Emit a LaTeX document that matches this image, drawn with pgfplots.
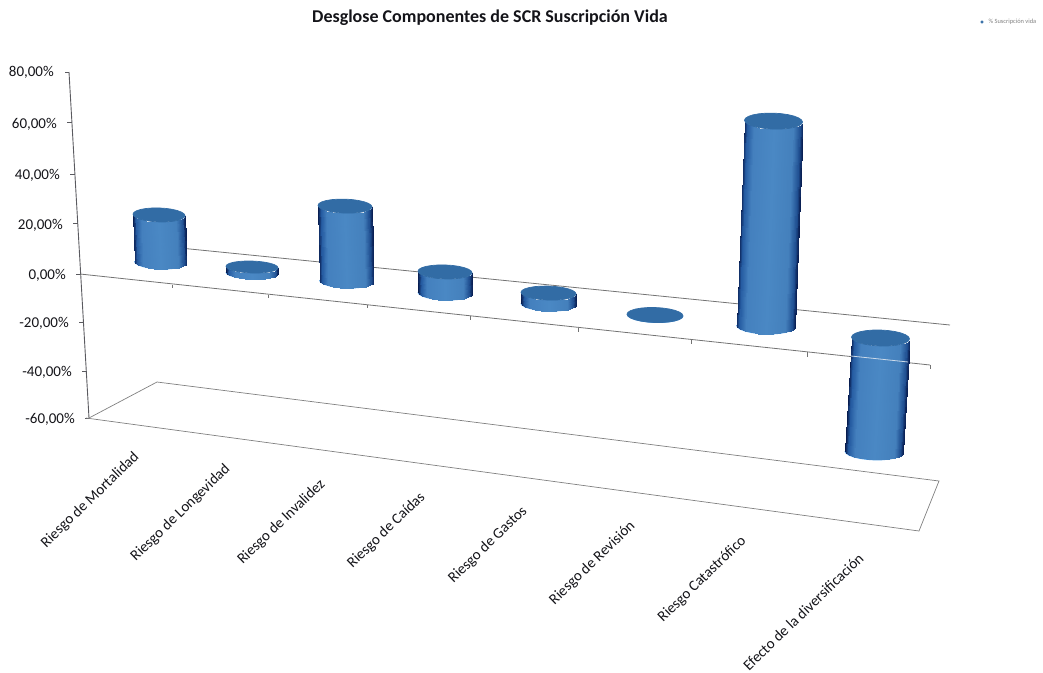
\documentclass[border=0pt]{standalone}
\usepackage{pgfplots}
\usepackage{pgfplotstable}
\usepackage{fontspec}
\setmainfont{Carlito}
\pgfplotsset{compat=1.18}

\definecolor{capblue}{RGB}{50,108,165}
\definecolor{rimblue}{RGB}{80,155,225}
\definecolor{axisline}{RGB}{90,90,95}
\definecolor{txt}{RGB}{20,20,25}

% one row per category: x of base and top, y of the zero plane (px), value in %, radii (px)
\pgfplotstableread{
xb     xt     yz    val    rx    ry
160.5  159    262   18.1   26    7
252    252    273    2.3   26    6
346.5  345    281   28.8   27    7
445    445    293    8.1   27    7
548.5  548.5  304    4.2   27.5  7
655    655    315    0.0   28    7.5
765.5  773.5  326   78.8   29    8
874    880.5  338  -43.8   29    8
}\cyls

% front half of a unit cylinder, t=0 bottom, t=1 top
\pgfplotstableread{
u v t
-1 0 0
-.966 .259 0
-.866 .5 0
-.707 .707 0
-.5 .866 0
-.259 .966 0
0 1 0
.259 .966 0
.5 .866 0
.707 .707 0
.866 .5 0
.966 .259 0
1 0 0
-1 0 1
-.966 .259 1
-.866 .5 1
-.707 .707 1
-.5 .866 1
-.259 .966 1
0 1 1
.259 .966 1
.5 .866 1
.707 .707 1
.866 .5 1
.966 .259 1
1 0 1
}\body

\pgfplotstableread{
u v
1 0
.966 .259
.866 .5
.707 .707
.5 .866
.259 .966
0 1
-.259 .966
-.5 .866
-.707 .707
-.866 .5
-.966 .259
-1 0
-.966 -.259
-.866 -.5
-.707 -.707
-.5 -.866
-.259 -.966
0 -1
.259 -.966
.5 -.866
.707 -.707
.866 -.5
.966 -.259
1 0
}\capring

\newcommand{\vlab}[3]{\node[anchor=east, inner sep=0pt, text=txt, font=\fontsize{15}{18}\selectfont] at (axis cs:#1,#2) {#3};}
\newcommand{\clab}[3]{\node[anchor=east, inner sep=0pt, rotate=44, text=txt, font=\fontsize{15}{18}\selectfont] at (axis cs:#1,#2) {#3};}

\begin{document}
\begin{tikzpicture}
\useasboundingbox (0,0) rectangle (1043pt,672pt);
\begin{axis}[
    x=1pt, y=1pt,
    xmin=0, xmax=1043,
    ymin=0, ymax=672,
    y dir=reverse,
    hide axis,
    clip=false,
    colormap={cylb}{
        rgb255(0)=(8,28,78);
        rgb255(5)=(36,90,160);
        rgb255(16)=(68,128,190);
        rgb255(50)=(74,136,196);
        rgb255(84)=(68,128,188);
        rgb255(95)=(32,80,146);
        rgb255(100)=(10,32,84)
    },
    every axis plot/.append style={no markers}
]
% value axis
\addplot[axisline, line width=0.9pt] coordinates {(69,72) (89,418)};
\addplot[axisline, line width=0.7pt] coordinates {(65,72) (69,72)};
\addplot[axisline, line width=0.7pt] coordinates {(67,122) (72,122)};
\addplot[axisline, line width=0.7pt] coordinates {(70,174) (75,174)};
\addplot[axisline, line width=0.7pt] coordinates {(73,223) (78,223)};
\addplot[axisline, line width=0.7pt] coordinates {(76,274) (81,274)};
\addplot[axisline, line width=0.7pt] coordinates {(79,322) (84,322)};
\addplot[axisline, line width=0.7pt] coordinates {(82,371) (87,371)};
\addplot[axisline, line width=0.7pt] coordinates {(85,418) (90,418)};
% floor
\addplot[gray, line width=0.7pt] coordinates {(89,418) (157,382) (939,481) (919,531) (86,418)};
% zero plane, back and front
\addplot[gray!90!black, line width=0.8pt] coordinates {(170,247) (950,325)};
\addplot[gray!90!black, line width=0.8pt] coordinates {(80,274) (930,365)};
% category ticks on the zero plane
\addplot[gray!90!black, line width=0.7pt] coordinates {(172,285) (172,288)};
\addplot[gray!90!black, line width=0.7pt] coordinates {(268,295) (268,298)};
\addplot[gray!90!black, line width=0.7pt] coordinates {(367,305) (367,308)};
\addplot[gray!90!black, line width=0.7pt] coordinates {(470,316) (470,320)};
\addplot[gray!90!black, line width=0.7pt] coordinates {(578,328) (578,332)};
\addplot[gray!90!black, line width=0.7pt] coordinates {(691,340) (691,344)};
\addplot[gray!90!black, line width=0.7pt] coordinates {(807,352) (807,357)};
\addplot[gray!90!black, line width=0.7pt] coordinates {(930,365) (930,369)};
% cylinders
\pgfplotsinvokeforeach{0,...,7}{
    \pgfplotstablegetelem{#1}{xb}\of\cyls \let\xb\pgfplotsretval
    \pgfplotstablegetelem{#1}{xt}\of\cyls \let\xt\pgfplotsretval
    \pgfplotstablegetelem{#1}{yz}\of\cyls \let\yz\pgfplotsretval
    \pgfplotstablegetelem{#1}{val}\of\cyls \let\val\pgfplotsretval
    \pgfplotstablegetelem{#1}{rx}\of\cyls \let\rx\pgfplotsretval
    \pgfplotstablegetelem{#1}{ry}\of\cyls \let\ry\pgfplotsretval
    \pgfmathsetmacro\ylow{\yz-min(\val,0)*2.6}
    \pgfmathsetmacro\yhigh{\yz-max(\val,0)*2.6}
    \addplot[rimblue, line width=0.9pt, restrict expr to domain={\thisrow{t}}{0:0}]
        table[x expr=\xb+\rx*\thisrow{u},
              y expr=\ylow+\ry*\thisrow{v}+0.03*\rx*\thisrow{u}] {\body};
    \addplot[surf, shader=interp, mesh/cols=13, point meta=\thisrow{u},
             point meta min=-1, point meta max=1]
        table[x expr=\xb*(1-\thisrow{t})+\xt*\thisrow{t}+\rx*\thisrow{u},
              y expr=\ylow*(1-\thisrow{t})+\yhigh*\thisrow{t}+\ry*\thisrow{v}+0.03*\rx*\thisrow{u}] {\body};
    \addplot[fill=capblue, draw=capblue, line width=0.7pt]
        table[x expr=\xt+\rx*\thisrow{u},
              y expr=\yhigh+\ry*\thisrow{v}+0.03*\rx*\thisrow{u}] {\capring};
}
% front plane line shows through the last cylinder
\addplot[white!75!capblue, line width=0.8pt] coordinates {(851,356) (908,362)};
% legend
\addplot[only marks, mark=square*, mark size=1.3pt, mark options={fill=capblue, draw=capblue}] coordinates {(982,22)};
\node[anchor=west, text=gray, font=\fontsize{6.4}{7}\selectfont] at (axis cs:985,22) {\% Suscripción vida};
% title
\node[text=txt, font=\fontsize{18}{22}\bfseries\selectfont] at (axis cs:490,18) {Desglose Componentes de SCR Suscripción Vida};
% value labels
\vlab{54}{72}{80,00\%}
\vlab{57}{124}{60,00\%}
\vlab{60}{175}{40,00\%}
\vlab{63}{225}{20,00\%}
\vlab{66}{275}{0,00\%}
\vlab{69}{323}{-20,00\%}
\vlab{72}{372}{-40,00\%}
\vlab{75}{419}{-60,00\%}
% category labels
\clab{137}{455}{Riesgo de Mortalidad}
\clab{228}{467}{Riesgo de Longevidad}
\clab{323}{482}{Riesgo de Invalidez}
\clab{423}{495}{Riesgo de Caídas}
\clab{525}{509}{Riesgo de Gastos}
\clab{633}{524}{Riesgo de Revisión}
\clab{744}{539}{Riesgo Catastrófico}
\clab{861}{556}{Efecto de la diversificación}
\end{axis}
\end{tikzpicture}
\end{document}
